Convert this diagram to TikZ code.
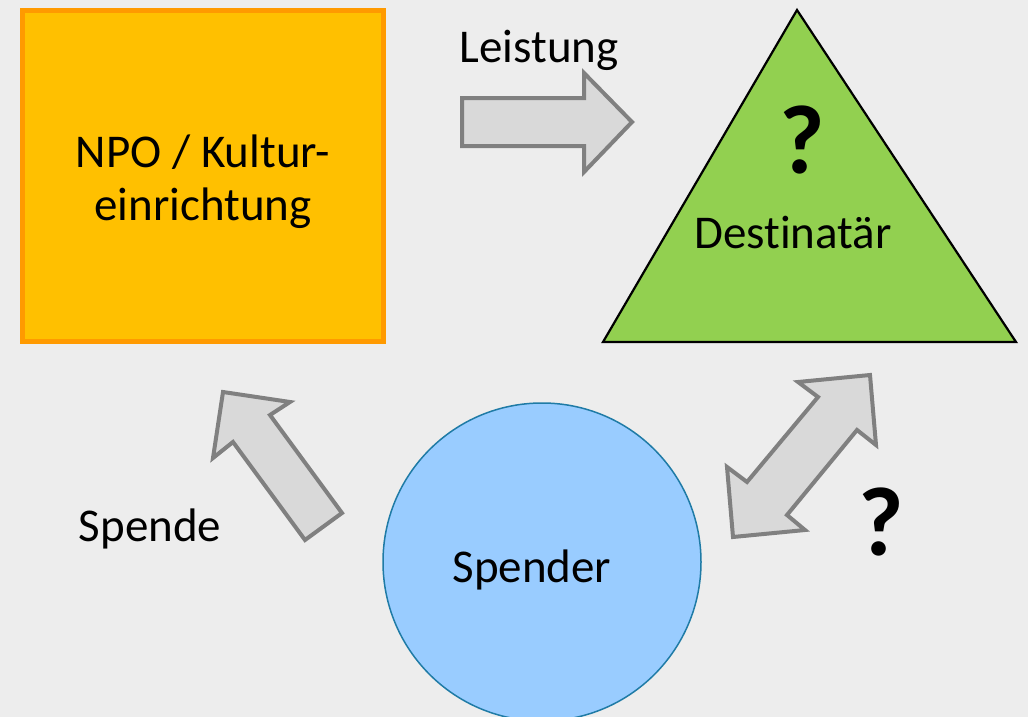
\documentclass[tikz,border=0pt]{standalone}
\usepackage{fontspec}
\setmainfont{Carlito}[Ligatures={NoCommon}]
\definecolor{bg}{HTML}{EDEDED}
\definecolor{npofill}{HTML}{FFC000}
\definecolor{npoline}{HTML}{FF9A00}
\definecolor{destfill}{HTML}{92D050}
\definecolor{spfill}{HTML}{99CCFF}
\definecolor{spline}{HTML}{1F7BA6}
\definecolor{arrfill}{HTML}{D9D9D9}
\definecolor{arrline}{HTML}{808080}
\tikzset{
  lbl/.style={font=\fontsize{47}{53}\selectfont, inner sep=0pt, anchor=base},
  qmark/.style={font=\fontsize{98}{110}\selectfont\bfseries, inner sep=0pt, anchor=base},
  blockarrow/.style={fill=arrfill, draw=arrline, line width=4pt, line join=miter},
}
\begin{document}
\begin{tikzpicture}[x=1pt,y=-1pt]
\fill[bg] (0,0) rectangle (1028,717);
\useasboundingbox (0,0) rectangle (1028,717);
% NPO square
\draw[fill=npofill, draw=npoline, line width=5pt] (22.5,10.5) rectangle (383.5,341.5);
\node[lbl] (npo1) at (203,167) {NPO / Kultur-};
\node[lbl] (npo2) at (203,220) {einrichtung};
% Destinataer triangle
\draw[fill=destfill, draw=black, line width=2.2pt, line join=miter] (797,10) -- (1016,342) -- (603,342) -- cycle;
\node[qmark] (q1) at (802,173) {?};
\node[lbl] (dest) at (793,248) {Destinatär};
% Spender circle
\begin{scope}
\clip (0,0) rectangle (1028,717);
\draw[fill=spfill, draw=spline, line width=1.5pt] (542,562) circle (159);
\end{scope}
\node[lbl] (spender) at (532,582) {Spender};
% Leistung arrow
\draw[blockarrow] (462,98) -- (584,98) -- (584,73) -- (632,122) -- (584,172) -- (584,146) -- (462,146) -- cycle;
\node[lbl] (leistung) at (539,63) {Leistung};
% Spende arrow
\draw[blockarrow] (223,392) -- (290,402) -- (270,415) -- (342,513) -- (305,540) -- (233,442) -- (213,458) -- cycle;
\node[lbl] (spende) at (150,541) {Spende};
% double arrow
\draw[blockarrow] (870,375) -- (876,445) -- (857,430) -- (787,515) -- (805,530) -- (733,537) -- (727,467) -- (747,482) -- (818,397) -- (798,382) -- cycle;
\node[qmark] (q2) at (881,555) {?};
\end{tikzpicture}
\end{document}
